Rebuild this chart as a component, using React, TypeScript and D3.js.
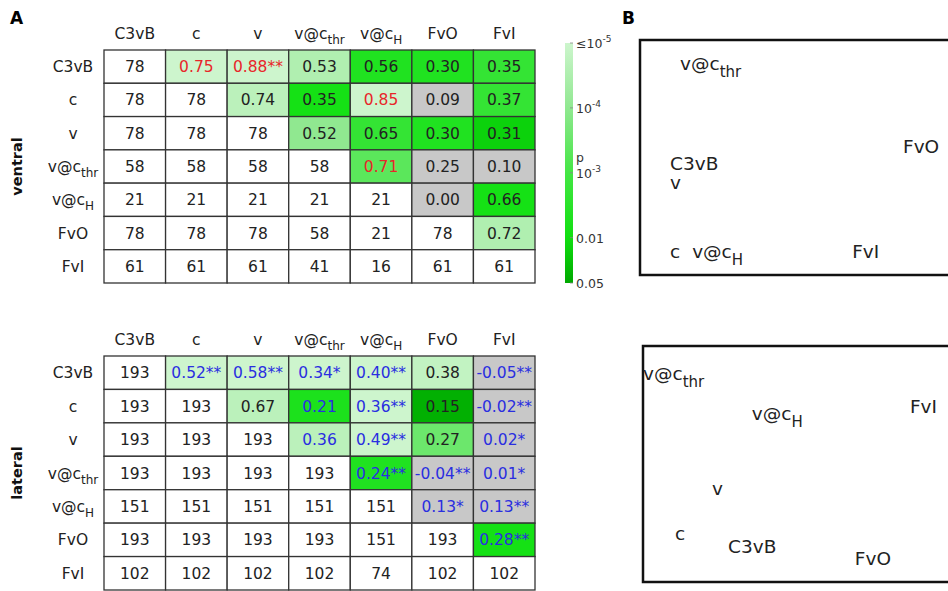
import React from 'react';
import * as d3 from 'd3';

// categories (use "_" to mark a subscript)
const categories = ['C3vB', 'c', 'v', 'v@c_thr', 'v@c_H', 'FvO', 'FvI'];

// ventral: counts (lower triangle + diagonal)
const ventralN = [
  [78],
  [78, 78],
  [78, 78, 78],
  [58, 58, 58, 58],
  [21, 21, 21, 21, 21],
  [78, 78, 78, 58, 21, 78],
  [61, 61, 61, 41, 16, 61, 61],
];
// ventral: correlations (upper triangle, row i holds columns i+1..6)
const ventralR = [
  [0.75, 0.88, 0.53, 0.56, 0.30, 0.35],
  [0.74, 0.35, 0.85, 0.09, 0.37],
  [0.52, 0.65, 0.30, 0.31],
  [0.71, 0.25, 0.10],
  [0.00, 0.66],
  [0.72],
];
// ventral: p values (null = not significant, grey)
const ventralP = [
  [1e-5, 1e-5, 3e-5, 0.005, 0.005, 0.002],
  [2e-5, 0.008, 1e-5, null, 0.002],
  [1e-4, 0.002, 0.005, 0.015],
  [5e-4, null, null],
  [null, 0.008],
  [3e-5],
];
const ventralStars = [
  ['', '**', '', '', '', ''],
  ['', '', '', '', ''],
  ['', '', '', ''],
  ['', '', ''],
  ['', ''],
  [''],
];
const ventralInk = [
  ['r', 'r', 'k', 'k', 'k', 'k'],
  ['k', 'k', 'r', 'k', 'k'],
  ['k', 'k', 'k', 'k'],
  ['r', 'k', 'k'],
  ['k', 'k'],
  ['k'],
];

// lateral
const lateralN = [
  [193],
  [193, 193],
  [193, 193, 193],
  [193, 193, 193, 193],
  [151, 151, 151, 151, 151],
  [193, 193, 193, 193, 151, 193],
  [102, 102, 102, 102, 74, 102, 102],
];
const lateralR = [
  [0.52, 0.58, 0.34, 0.40, 0.38, -0.05],
  [0.67, 0.21, 0.36, 0.15, -0.02],
  [0.36, 0.49, 0.27, 0.02],
  [0.24, -0.04, 0.01],
  [0.13, 0.13],
  [0.28],
];
const lateralP = [
  [1e-5, 1e-5, 1e-5, 1e-5, 1.5e-5, null],
  [2e-5, 0.006, 1e-5, 0.04, null],
  [2e-5, 1e-5, 3e-4, null],
  [0.005, null, null],
  [null, null],
  [0.008],
];
const lateralStars = [
  ['**', '**', '*', '**', '', '**'],
  ['', '', '**', '', '**'],
  ['', '**', '', '*'],
  ['**', '**', '*'],
  ['*', '**'],
  ['**'],
];
const lateralInk = [
  ['b', 'b', 'b', 'b', 'k', 'b'],
  ['k', 'b', 'b', 'k', 'b'],
  ['b', 'b', 'k', 'b'],
  ['b', 'b', 'b'],
  ['b', 'b'],
  ['b'],
];

// colourbar ticks
const pTicks = [1e-5, 1e-4, 1e-3, 1e-2, 0.05];
const pTickLabels = ['≤10^-5', '10^-4', '10^-3', '0.01', '0.05'];

// panel B embeddings (x, y in [0,1] box units), same order as categories
const ventralMdsX = [0.094, 0.094, 0.094, 0.125, 0.163, 0.822, 0.663];
const ventralMdsY = [0.447, 0.072, 0.366, 0.872, 0.072, 0.519, 0.072];
const lateralMdsX = [0.266, 0.1, 0.216, 0.0, 0.34, 0.662, 0.834];
const lateralMdsY = [0.123, 0.178, 0.369, 0.856, 0.686, 0.072, 0.716];

const FONT = 'DejaVu Sans';
const INK: Record<string, string> = { r: '#e8262a', b: '#2a2ee0', k: '#222' };

const pColor = d3
  .scaleLog<string>()
  .domain([1e-5, 1e-4, 1e-3, 1e-2, 0.05])
  .range(['#cdf5cd', '#90e890', '#44e644', '#10e010', '#00a800'])
  .clamp(true);

function Label({ name, x, y, size, anchor = 'middle', subSize, subDy }: any) {
  const [base, sub] = name.split('_');
  return (
    <text x={x} y={y} fontSize={size} textAnchor={anchor} fontFamily={FONT} fill="#222">
      <tspan>{base}</tspan>
      {sub && (
        <tspan dy={subDy} fontSize={subSize}>
          {sub}
        </tspan>
      )}
    </text>
  );
}

function Matrix({ top, bottom, N, R, P, stars, ink, title }: any) {
  const x = d3.scaleBand().domain(categories).range([104, 535]);
  const y = d3.scaleBand().domain(categories).range([top, bottom]);
  const bw = x.bandwidth();
  const bh = y.bandwidth();
  const cells: any[] = [];
  categories.forEach((rc, i) => {
    categories.forEach((cc, j) => {
      let fill = '#fff';
      let txt = '';
      let color = '#222';
      if (j <= i) {
        txt = String(N[i][j]);
      } else {
        const k = j - i - 1;
        const p = P[i][k];
        fill = p == null ? '#c8c8c8' : pColor(p);
        txt = R[i][k].toFixed(2) + stars[i][k];
        color = INK[ink[i][k]];
      }
      cells.push(
        <g key={rc + cc}>
          <rect x={x(cc)} y={y(rc)} width={bw} height={bh} fill={fill} stroke="#333" strokeWidth={1.3} />
          <text x={x(cc)! + bw / 2} y={y(rc)! + bh / 2 + 5.5} textAnchor="middle" fontSize={15.5} fontFamily={FONT} fill={color}>
            {txt}
          </text>
        </g>
      );
    });
  });
  const mid = (top + bottom) / 2;
  return (
    <g>
      {categories.map((c) => (
        <Label key={'h' + c} name={c} x={x(c)! + bw / 2} y={top - 11} size={15.5} subSize={12} subDy={5} />
      ))}
      {categories.map((c) => (
        <Label key={'r' + c} name={c} x={73} y={y(c)! + bh / 2 + 5.5} size={15.5} subSize={12} subDy={5} />
      ))}
      {cells}
      <text transform={`translate(22,${mid}) rotate(-90)`} textAnchor="middle" fontSize={14.5} fontWeight="bold" fontFamily={FONT} fill="#111">
        {title}
      </text>
    </g>
  );
}

function Embedding({ left, top, bottom, mx, my }: any) {
  const sx = d3.scaleLinear().domain([0, 1]).range([left, left + 320]);
  const sy = d3.scaleLinear().domain([0, 1]).range([bottom, top]);
  return (
    <g>
      <rect x={left} y={top} width={340} height={bottom - top} fill="none" stroke="#111" strokeWidth={2.5} />
      {categories.map((c, i) => (
        <Label key={c} name={c} x={sx(mx[i])} y={sy(my[i])} size={18.5} anchor="start" subSize={15} subDy={7} />
      ))}
    </g>
  );
}

function ColorBar() {
  const y = d3.scaleLog().domain([1e-5, 0.05]).range([43, 283]);
  const stops = d3.range(0, 1.0001, 0.05).map((t) => Math.pow(10, -5 + t * (Math.log10(0.05) + 5)));
  return (
    <g>
      <defs>
        <linearGradient id="pgrad" x1="0" y1="0" x2="0" y2="1">
          {stops.map((p, i) => (
            <stop key={i} offset={(y(p) - 43) / 240} stopColor={pColor(p)} />
          ))}
        </linearGradient>
      </defs>
      <rect x={565} y={43} width={8} height={240} fill="url(#pgrad)" />
      {pTicks.map((p, i) => {
        const parts = pTickLabels[i].split('^');
        return (
          <g key={i}>
            <line x1={570} x2={573} y1={y(p)} y2={y(p)} stroke="#888" strokeWidth={0.8} />
            <text x={576} y={y(p) + 5} fontSize={12.5} fontFamily={FONT} fill="#333">
              <tspan>{parts[0]}</tspan>
              {parts[1] && (
                <tspan dy={-6} fontSize={9}>
                  {parts[1]}
                </tspan>
              )}
            </text>
          </g>
        );
      })}
      <text x={576} y={162} fontSize={12.5} fontFamily={FONT} fill="#333">p</text>
    </g>
  );
}

export default function App() {
  return (
    <svg width={948} height={591} style={{ position: 'absolute', left: 0, top: 0, background: '#fff' }}>
      <rect width={948} height={591} fill="#fff" />
      <text x={10} y={24} fontSize={17} fontWeight="bold" fontFamily={FONT}>A</text>
      <text x={622} y={24} fontSize={17} fontWeight="bold" fontFamily={FONT}>B</text>
      <Matrix top={50} bottom={283} N={ventralN} R={ventralR} P={ventralP} stars={ventralStars} ink={ventralInk} title="ventral" />
      <Matrix top={356} bottom={590} N={lateralN} R={lateralR} P={lateralP} stars={lateralStars} ink={lateralInk} title="lateral" />
      <ColorBar />
      <Embedding left={640} top={40} bottom={275} mx={ventralMdsX} my={ventralMdsY} />
      <Embedding left={643} top={346} bottom={582} mx={lateralMdsX} my={lateralMdsY} />
    </svg>
  );
}
